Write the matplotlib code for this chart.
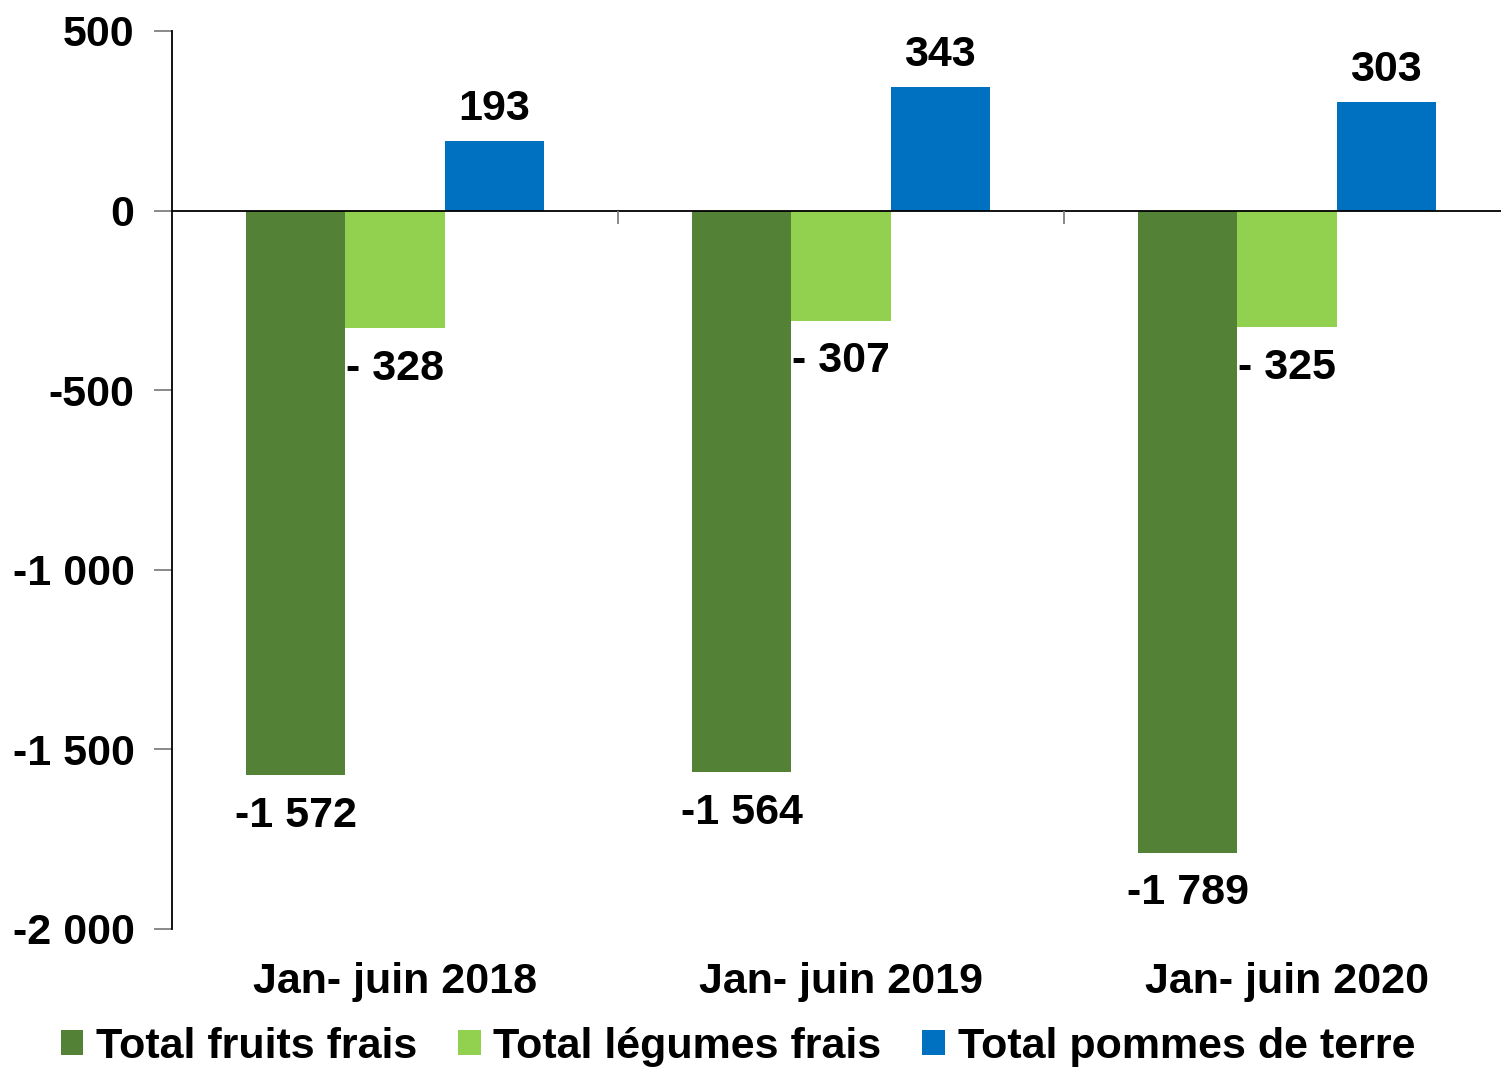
import matplotlib.pyplot as plt
import numpy as np

# Data (solde)
categories = ['Jan- juin 2018', 'Jan- juin 2019', 'Jan- juin 2020']
fruits = [-1572, -1564, -1789]
legumes = [-328, -307, -325]
pommes = [193, 343, 303]

series_names = ['Total fruits frais', 'Total légumes frais', 'Total pommes de terre']
colors = ['#538135', '#92D050', '#0070C0']

yticks = [500, 0, -500, -1000, -1500, -2000]


def fmt_thousands(v):
    s = f'{abs(v):,}'.replace(',', ' ')
    return ('-' if v < 0 else '') + s


plt.rcParams['font.family'] = ['Liberation Sans', 'DejaVu Sans']
plt.rcParams['font.weight'] = 'bold'

fig = plt.figure(figsize=(15.01, 10.68), dpi=100)
# the plot area runs a little past the right edge of the figure
ax = fig.add_axes([172 / 1501, 1 - 929 / 1068, 1338 / 1501, 898 / 1068])

x = np.arange(len(categories))
width = 0.222
offsets = [-width, 0, width]
all_series = [fruits, legumes, pommes]

bars = []
for vals, off, col, name in zip(all_series, offsets, colors, series_names):
    b = ax.bar(x + off, vals, width, color=col, label=name, zorder=2)
    bars.append(b)

# data labels
fs = 31
for rect, v in zip(bars[0], fruits):
    ax.annotate(fmt_thousands(v), (rect.get_x() + rect.get_width() / 2, v),
                xytext=(0, -29), textcoords='offset points',
                ha='center', va='center', fontsize=fs, fontweight='bold')
for rect, v in zip(bars[1], legumes):
    ax.annotate('- ' + fmt_thousands(abs(v)), (rect.get_x() + rect.get_width() / 2, v),
                xytext=(0, -29), textcoords='offset points',
                ha='center', va='center', fontsize=fs, fontweight='bold')
for rect, v in zip(bars[2], pommes):
    ax.annotate(fmt_thousands(v), (rect.get_x() + rect.get_width() / 2, v),
                xytext=(0, 23), textcoords='offset points',
                ha='center', va='center', fontsize=fs, fontweight='bold')

ax.set_xlim(-0.5, len(categories) - 0.5)
ax.set_ylim(-2000, 500)

# zero line with category boundary ticks
ax.axhline(0, color='black', lw=1.3, zorder=3)
ax.vlines([0.5, 1.5], -36, 0, color='#808080', lw=1.3, zorder=3)

ax.set_yticks(yticks)
ax.set_yticklabels([fmt_thousands(t) for t in yticks], fontsize=fs, fontweight='bold')
ax.tick_params(axis='y', length=13, width=1.3, color='#808080', pad=14)

ax.set_xticks(x)
ax.set_xticklabels(categories, fontsize=fs, fontweight='bold')
ax.tick_params(axis='x', length=0, pad=24)

for side in ['top', 'right', 'bottom']:
    ax.spines[side].set_visible(False)
ax.spines['left'].set_linewidth(1.3)

fig.legend(loc='center', bbox_to_anchor=(738 / 1501, 1 - 1047 / 1068), ncol=3,
           frameon=False, fontsize=fs, handlelength=0.52, handleheight=0.52,
           handletextpad=0.3, columnspacing=0.95, borderpad=0, borderaxespad=0)

plt.savefig('out.png', dpi=100)
